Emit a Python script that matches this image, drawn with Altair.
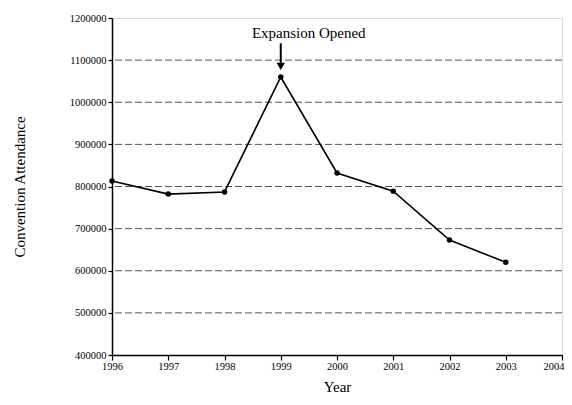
import altair as alt
import pandas as pd

years = [1996, 1997, 1998, 1999, 2000, 2001, 2002, 2003]
attendance = [813000, 782000, 787000, 1060000, 832000, 789000, 673000, 620000]
grid_values = [500000, 600000, 700000, 800000, 900000, 1000000, 1100000]
y_ticks = [400000, 500000, 600000, 700000, 800000, 900000, 1000000, 1100000, 1200000]
x_ticks = [1996, 1997, 1998, 1999, 2000, 2001, 2002, 2003, 2004]
annot_text = "Expansion Opened"
annot_year = 1999

df = pd.DataFrame({"Year": years, "Attendance": attendance})
grid_df = pd.DataFrame({"v": grid_values})
annot_df = pd.DataFrame({"Year": [annot_year], "text": [annot_text],
                         "ty": [1165000], "a1": [1140000], "a2": [1085000]})

font = "Liberation Serif"
xscale = alt.Scale(domain=[1996, 2004], nice=False, zero=False)
yscale = alt.Scale(domain=[400000, 1200000], nice=False, zero=False)

xaxis = alt.Axis(values=x_ticks, format="d", title="Year", grid=False, domain=True,
                 domainColor="black", domainWidth=1.5, tickColor="black", labelColor="black",
                 labelFont=font, labelFontSize=10.5, titleFont=font, titleFontSize=15,
                 titleFontWeight="normal", titleColor="black", titlePadding=8,
                 tickSize=5, tickWidth=1.2, labelPadding=1, labelFlush=False,
                 labelAlign=alt.expr("datum.value == 2004 ? 'right' : 'center'"),
                 labelOffset=alt.expr("datum.value == 2004 ? 2 : 0"))
yaxis = alt.Axis(values=y_ticks, format="d", title="Convention Attendance", grid=False, domain=True,
                 domainColor="black", domainWidth=1.5, tickColor="black", labelColor="black",
                 labelFont=font, labelFontSize=10.5, titleFont=font, titleFontSize=15,
                 titleFontWeight="normal", titleColor="black", titlePadding=42,
                 tickSize=4, tickWidth=1.2, labelPadding=2, labelFlush=False)

grid = alt.Chart(grid_df).mark_rule(color="#555555", strokeDash=[7, 3], strokeWidth=1).encode(
    y=alt.Y("v:Q", scale=yscale, axis=yaxis)
)

line = alt.Chart(df).mark_line(color="black", strokeWidth=1.6).encode(
    x=alt.X("Year:Q", scale=xscale, axis=xaxis),
    y=alt.Y("Attendance:Q", scale=yscale, axis=yaxis),
)
pts = alt.Chart(df).mark_point(filled=True, color="black", size=30, opacity=1).encode(
    x=alt.X("Year:Q", scale=xscale, axis=xaxis),
    y=alt.Y("Attendance:Q", scale=yscale, axis=yaxis),
)

text = alt.Chart(annot_df).mark_text(font=font, fontSize=15, color="black", dx=28, baseline="middle").encode(
    x=alt.X("Year:Q", scale=xscale, axis=xaxis),
    y=alt.Y("ty:Q", scale=yscale, axis=yaxis),
    text="text:N",
)
arrow = alt.Chart(annot_df).mark_rule(color="black", strokeWidth=2).encode(
    x=alt.X("Year:Q", scale=xscale, axis=xaxis),
    y=alt.Y("a1:Q", scale=yscale, axis=yaxis),
    y2="a2:Q",
)
head = alt.Chart(annot_df).mark_point(shape="triangle-down", filled=True, color="black", size=70, opacity=1).encode(
    x=alt.X("Year:Q", scale=xscale, axis=xaxis),
    y=alt.Y("a2:Q", scale=yscale, axis=yaxis),
)

chart = alt.layer(grid, line, pts, arrow, head, text).properties(
    width=450, height=337,
    autosize=alt.AutoSizeParams(type="none"),
    padding={"left": 104, "top": 10, "right": 2, "bottom": 42},
).configure_view(strokeWidth=0, stroke="transparent").configure(background="white")

chart.save("out.html", embed_options={"renderer": "svg", "actions": False})
